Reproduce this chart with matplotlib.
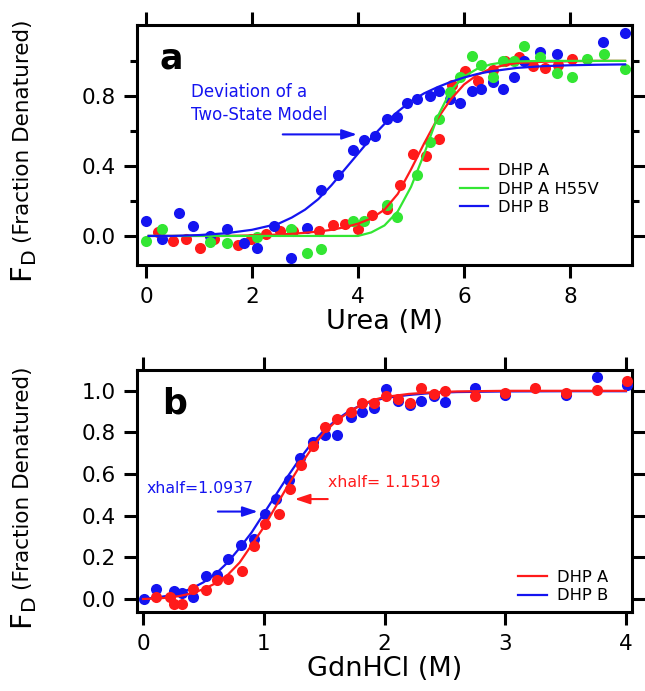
import matplotlib
matplotlib.use("Agg")
import matplotlib.pyplot as plt
from matplotlib.lines import Line2D
from matplotlib.ticker import MultipleLocator, FixedLocator, FormatStrFormatter

# ---------------- Panel a: Urea denaturation ----------------
urea_A_x = [0.23, 0.50, 0.75, 1.02, 1.28, 1.74, 1.99, 2.26, 2.52, 2.78, 3.27, 3.52, 3.75, 4.00,
            4.26, 4.54, 4.79, 5.03, 5.28, 5.52, 5.77, 6.02, 6.27, 6.54, 6.77, 7.04, 7.30, 7.53,
            7.78, 8.03]
urea_A_y = [0.02, -0.03, -0.02, -0.07, -0.02, -0.05, -0.02, 0.01, 0.03, 0.03, 0.03, 0.06, 0.07, 0.04,
            0.12, 0.155, 0.29, 0.47, 0.455, 0.555, 0.86, 0.94, 0.885, 0.95, 1.00, 1.02, 0.97, 0.96,
            0.975, 1.01]

urea_H55V_x = [0.00, 0.31, 1.21, 1.52, 2.10, 2.73, 3.03, 3.30, 3.90, 4.11, 4.54, 4.73, 5.12, 5.35,
               5.53, 5.74, 5.92, 6.15, 6.33, 6.54, 6.73, 6.94, 7.13, 7.43, 7.75, 8.03, 8.33, 8.64, 9.04]
urea_H55V_y = [-0.03, 0.037, -0.035, -0.04, -0.005, 0.037, -0.10, -0.075, 0.085, 0.085, 0.176, 0.11,
               0.35, 0.536, 0.67, 0.82, 0.91, 1.03, 0.975, 0.91, 1.00, 1.00, 1.085, 1.02, 0.93, 0.91,
               1.01, 1.04, 0.955]

urea_B_x = [0.00, 0.31, 0.63, 0.89, 1.21, 1.52, 1.84, 2.10, 2.42, 2.73, 3.03, 3.31, 3.62, 3.91, 4.11,
            4.32, 4.54, 4.73, 4.93, 5.12, 5.35, 5.53, 5.74, 5.92, 6.15, 6.33, 6.54, 6.73, 6.94, 7.13,
            7.43, 7.75, 8.63, 9.04]
urea_B_y = [0.085, -0.02, 0.13, 0.056, 0.00, 0.037, -0.04, -0.068, 0.056, -0.125, 0.047, 0.26, 0.35,
            0.49, 0.55, 0.57, 0.67, 0.68, 0.76, 0.78, 0.80, 0.83, 0.78, 0.76, 0.83, 0.84, 0.88, 0.84,
            0.91, 1.00, 1.05, 1.04, 1.11, 1.16]

# fitted curves
urea_fit_x = [0.05, 0.5, 1.0, 1.5, 2.0, 2.5, 2.75, 3.0, 3.25, 3.5, 3.75, 4.0, 4.25, 4.5, 4.75, 5.0,
              5.25, 5.5, 5.75, 6.0, 6.25, 6.5, 6.75, 7.0, 7.5, 8.0, 8.5, 9.04]
urea_fit_B = [0.0, 0.0, 0.005, 0.015, 0.035, 0.07, 0.105, 0.15, 0.21, 0.29, 0.38, 0.47, 0.56, 0.64,
              0.71, 0.77, 0.815, 0.85, 0.88, 0.905, 0.925, 0.94, 0.95, 0.96, 0.97, 0.975, 0.978, 0.98]
urea_fit_A = [0.0, 0.0, 0.0, 0.0, 0.003, 0.008, 0.012, 0.018, 0.025, 0.035, 0.05, 0.07, 0.10, 0.15,
              0.24, 0.38, 0.53, 0.67, 0.78, 0.865, 0.92, 0.955, 0.975, 0.988, 0.995, 0.998, 1.0, 1.0]
urea_fit_H55V = [0.0, 0.0, 0.0, 0.0, 0.0, 0.0, 0.0, 0.0, 0.0, 0.0, 0.0, 0.0, 0.02, 0.06, 0.14, 0.28,
                 0.47, 0.68, 0.83, 0.91, 0.955, 0.98, 0.992, 0.997, 1.0, 1.0, 1.0, 1.0]

urea_yticks_major = [0.0, 0.4, 0.8]
urea_yticks_minor = [0.2, 0.6, 1.0]

# ---------------- Panel b: GdnHCl denaturation ----------------
gdn_A_x = [0.11, 0.22, 0.26, 0.32, 0.41, 0.52, 0.61, 0.705, 0.82, 0.92, 1.01, 1.13, 1.215, 1.31, 1.41,
           1.51, 1.61, 1.72, 1.81, 1.91, 2.01, 2.11, 2.21, 2.30, 2.41, 2.50, 2.75, 3.00, 3.25, 3.50,
           3.76, 4.01]
gdn_A_y = [0.008, 0.008, -0.024, -0.024, 0.047, 0.043, 0.09, 0.095, 0.136, 0.255, 0.36, 0.41, 0.53,
           0.644, 0.735, 0.825, 0.864, 0.896, 0.94, 0.94, 0.976, 0.96, 0.94, 1.013, 0.985, 0.997,
           0.976, 0.99, 1.013, 0.99, 1.005, 1.045]

gdn_B_x = [0.01, 0.11, 0.26, 0.32, 0.41, 0.52, 0.61, 0.705, 0.815, 0.92, 1.01, 1.10, 1.21, 1.30, 1.41,
           1.51, 1.61, 1.72, 1.81, 1.91, 2.01, 2.11, 2.21, 2.30, 2.41, 2.50, 2.75, 3.00, 3.50, 3.76,
           4.01]
gdn_B_y = [0.0, 0.047, 0.04, 0.027, 0.008, 0.11, 0.115, 0.19, 0.26, 0.29, 0.41, 0.48, 0.57, 0.675,
           0.756, 0.79, 0.79, 0.876, 0.90, 0.917, 1.008, 0.95, 0.93, 0.953, 0.973, 0.944, 1.013, 0.98,
           0.98, 1.066, 1.03]

gdn_fit_x = [0.0, 0.1, 0.2, 0.3, 0.4, 0.5, 0.6, 0.7, 0.8, 0.9, 1.0, 1.1, 1.2, 1.3, 1.4, 1.5, 1.6, 1.7,
             1.8, 1.9, 2.0, 2.2, 2.4, 2.6, 3.0, 3.5, 4.0]
gdn_fit_A = [0.0, 0.002, 0.006, 0.014, 0.027, 0.047, 0.075, 0.115, 0.175, 0.26, 0.345, 0.445, 0.545,
             0.64, 0.725, 0.80, 0.855, 0.895, 0.93, 0.955, 0.97, 0.985, 0.993, 0.997, 1.0, 1.0, 1.0]
gdn_fit_B = [0.0, 0.006, 0.015, 0.028, 0.05, 0.08, 0.12, 0.175, 0.245, 0.32, 0.41, 0.50, 0.59, 0.675,
             0.75, 0.81, 0.86, 0.90, 0.93, 0.95, 0.965, 0.98, 0.99, 0.994, 0.997, 0.998, 0.998]

legend_a = ["DHP A", "DHP A H55V", "DHP B"]
legend_b = ["DHP A", "DHP B"]

RED = "#ff1a1a"
GREEN = "#33e633"
BLUE = "#1414f0"

plt.rcParams['font.family'] = ['DejaVu Sans']

W, H = 645, 691
fig = plt.figure(figsize=(W / 100, H / 100), dpi=100)


def axes_px(left, top, right, bottom):
    return fig.add_axes([left / W, 1 - bottom / H, (right - left) / W, (bottom - top) / H])


axa = axes_px(137, 25, 632, 265)
axb = axes_px(137, 370, 632, 612)

MS = 8.0
LW = 1.6
ARROW = dict(arrowstyle='-|>,head_length=0.9,head_width=0.3', lw=1.5, shrinkA=0, shrinkB=0)


def style(ax):
    for s in ax.spines.values():
        s.set_linewidth(2.2)
    ax.tick_params(which='major', direction='out', length=9.5, width=2.2, labelsize=15.5,
                   top=True, right=True, pad=6, labeltop=False, labelright=False)
    ax.tick_params(which='minor', direction='out', length=5, width=2.2, top=False, right=True)


# ----- panel a -----
axa.plot(urea_A_x, urea_A_y, 'o', color=RED, ms=MS, mec='none', zorder=3)
axa.plot(urea_B_x, urea_B_y, 'o', color=BLUE, ms=MS, mec='none', zorder=3)
axa.plot(urea_H55V_x, urea_H55V_y, 'o', color=GREEN, ms=MS, mec='none', zorder=3)
axa.plot(urea_fit_x, urea_fit_A, '-', color=RED, lw=LW, zorder=4)
axa.plot(urea_fit_x, urea_fit_H55V, '-', color=GREEN, lw=LW, zorder=4)
axa.plot(urea_fit_x, urea_fit_B, '-', color=BLUE, lw=LW, zorder=4)

axa.set_xlim(-0.17, 9.17)
axa.set_ylim(-0.166, 1.205)
axa.xaxis.set_major_locator(MultipleLocator(2))
axa.yaxis.set_major_locator(FixedLocator(urea_yticks_major))
axa.yaxis.set_minor_locator(FixedLocator(urea_yticks_minor))
axa.yaxis.set_major_formatter(FormatStrFormatter('%.1f'))
style(axa)
axa.set_xlabel("Urea (M)", fontsize=19.5, labelpad=2)

axa.text(0.045, 0.93, "a", transform=axa.transAxes, fontsize=25, fontweight='bold',
         ha='left', va='top')
axa.text(0.85, 0.82, "Deviation of a", color=BLUE, fontsize=12, ha='left', va='center')
axa.text(0.85, 0.69, "Two-State Model", color=BLUE, fontsize=12, ha='left', va='center')
axa.annotate("", xy=(3.98, 0.58), xytext=(2.58, 0.58), arrowprops=dict(ARROW, color=BLUE))

handles_a = [Line2D([], [], color=c, lw=LW) for c in (RED, GREEN, BLUE)]
axa.legend(handles_a, legend_a, loc='upper left', bbox_to_anchor=(0.652, 0.425), frameon=False,
           fontsize=11.8, handlelength=1.75, handletextpad=0.6, labelspacing=0.22,
           borderpad=0, borderaxespad=0)

# ----- panel b -----
axb.plot(gdn_B_x, gdn_B_y, 'o', color=BLUE, ms=MS, mec='none', zorder=3)
axb.plot(gdn_fit_x, gdn_fit_B, '-', color=BLUE, lw=LW, zorder=3)
axb.plot(gdn_A_x, gdn_A_y, 'o', color=RED, ms=MS, mec='none', zorder=4)
axb.plot(gdn_fit_x, gdn_fit_A, '-', color=RED, lw=LW, zorder=4)

axb.set_xlim(-0.05, 4.05)
axb.set_ylim(-0.0625, 1.10)
axb.xaxis.set_major_locator(MultipleLocator(1))
axb.yaxis.set_major_locator(MultipleLocator(0.2))
axb.yaxis.set_major_formatter(FormatStrFormatter('%.1f'))
style(axb)
axb.set_xlabel("GdnHCl (M)", fontsize=19.5, labelpad=2)

axb.text(0.05, 0.93, "b", transform=axb.transAxes, fontsize=25, fontweight='bold',
         ha='left', va='top')
axb.text(0.03, 0.53, "xhalf=1.0937", color=BLUE, fontsize=11.3, ha='left', va='center')
axb.text(1.53, 0.56, "xhalf= 1.1519", color=RED, fontsize=11.3, ha='left', va='center')
axb.annotate("", xy=(0.95, 0.42), xytext=(0.62, 0.42), arrowprops=dict(ARROW, color=BLUE))
axb.annotate("", xy=(1.256, 0.48), xytext=(1.53, 0.48), arrowprops=dict(ARROW, color=RED))

handles_b = [Line2D([], [], color=c, lw=LW) for c in (RED, BLUE)]
axb.legend(handles_b, legend_b, loc='upper left', bbox_to_anchor=(0.77, 0.175), frameon=False,
           fontsize=11.8, handlelength=1.75, handletextpad=0.6, labelspacing=0.22,
           borderpad=0, borderaxespad=0)

# ----- y labels (F_D larger, parenthetical smaller) -----
for top_px, bot_px in ((25, 265), (370, 612)):
    yb = 1 - (bot_px + 18) / H
    fig.text(24 / W, yb, r"F$_\mathregular{D}$", rotation=90, fontsize=21, ha='center', va='bottom')
    fig.text(23 / W, yb + 40 / H, "(Fraction Denatured)", rotation=90, fontsize=15.5,
             ha='center', va='bottom')

fig.savefig("out.png", dpi=100)
